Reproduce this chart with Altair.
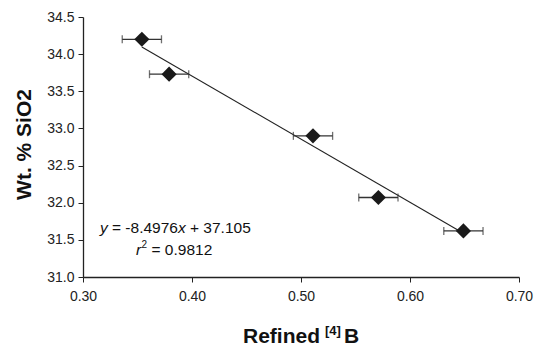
import altair as alt
import pandas as pd

# Data
refined_b = [0.354, 0.379, 0.511, 0.571, 0.649]
sio2 = [34.20, 33.73, 32.90, 32.07, 31.62]
x_err = [0.018, 0.018, 0.018, 0.018, 0.018]

slope = -8.4976
intercept = 37.105
x_ticks = [0.30, 0.40, 0.50, 0.60, 0.70]
y_ticks = [31.0, 31.5, 32.0, 32.5, 33.0, 33.5, 34.0, 34.5]

df = pd.DataFrame({"x": refined_b, "y": sio2, "err": x_err})
df["lo"] = df["x"] - df["err"]
df["hi"] = df["x"] + df["err"]

fit = pd.DataFrame({"x": [min(refined_b), max(refined_b)]})
fit["y"] = slope * fit["x"] + intercept

FONT = "Liberation Sans"
W, H = 436, 260

xscale = alt.Scale(domain=[0.30, 0.70], nice=False, zero=False)
yscale = alt.Scale(domain=[31.0, 34.5], nice=False, zero=False)

xaxis = alt.Axis(values=x_ticks, format=".2f", grid=False, title=None,
                 labelFont=FONT, labelFontSize=14, labelColor="#222",
                 labelPadding=7, tickColor="#222", domainColor="#222",
                 domainWidth=1.3, tickSize=5, labelOverlap=False,
                 labelFlush=False)
yaxis = alt.Axis(values=y_ticks, format=".1f", grid=False,
                 title="Wt. % SiO2", titleFont=FONT, titleFontSize=21,
                 titleFontWeight="bold", titleColor="#111",
                 titleX=-59, titleY=127, titleAlign="center",
                 titleBaseline="middle", titleAngle=270,
                 labelFont=FONT, labelFontSize=14, labelColor="#222",
                 labelPadding=4, tickColor="#222", domainColor="#222",
                 domainWidth=1.3, tickSize=5, labelOverlap=False,
                 labelFlush=False)

base = alt.Chart(df)

def X(field):
    return alt.X(field, scale=xscale, axis=xaxis)

def Y(field):
    return alt.Y(field, scale=yscale, axis=yaxis)

line = alt.Chart(fit).mark_line(color="#222", strokeWidth=1.1).encode(
    x=X("x:Q"), y=Y("y:Q"),
)

bars = base.mark_rule(color="#333", strokeWidth=1.3).encode(
    x=X("lo:Q"), x2="hi:Q", y=Y("y:Q")
)
cap_lo = base.mark_tick(color="#333", orient="vertical", size=8, thickness=1.3).encode(
    x=X("lo:Q"), y=Y("y:Q")
)
cap_hi = base.mark_tick(color="#333", orient="vertical", size=8, thickness=1.3).encode(
    x=X("hi:Q"), y=Y("y:Q")
)
pts = base.mark_point(shape="diamond", filled=True, size=230, color="#1a1a1a", opacity=1).encode(
    x=X("x:Q"), y=Y("y:Q")
)

def txt(s, px, py, size, weight="normal", style="normal"):
    return alt.Chart(pd.DataFrame({"t": [s]})).mark_text(
        font=FONT, fontSize=size, fontWeight=weight, fontStyle=style,
        align="left", baseline="alphabetic", color="#111"
    ).encode(text="t:N", x=alt.value(px), y=alt.value(py))

# x-axis title with superscript
title_parts = [
    txt("Refined", 160, 326, 21, weight="bold"),
    txt("[4]", 242, 318, 13, weight="bold"),
    txt("B", 261, 326, 21, weight="bold"),
]

# regression equation
eq_parts = [
    txt("y", 17, 216, 15.5, style="italic"),
    txt("= -8.4976", 29, 216, 15.5),
    txt("x", 95, 216, 15.5, style="italic"),
    txt("+ 37.105", 107, 216, 15.5),
    txt("r", 53, 238, 15.5, style="italic"),
    txt("2", 58.5, 231, 10),
    txt("= 0.9812", 68.5, 238, 15.5),
]

chart = alt.layer(line, bars, cap_lo, cap_hi, pts, *title_parts, *eq_parts).properties(
    width=W, height=H,
    autosize=alt.AutoSizeParams(type="none"),
    padding={"left": 75, "top": 9, "right": 15, "bottom": 70},
    background="white",
).configure_view(stroke=None)

chart.save("out.html", embed_options={"renderer": "svg", "actions": False})
